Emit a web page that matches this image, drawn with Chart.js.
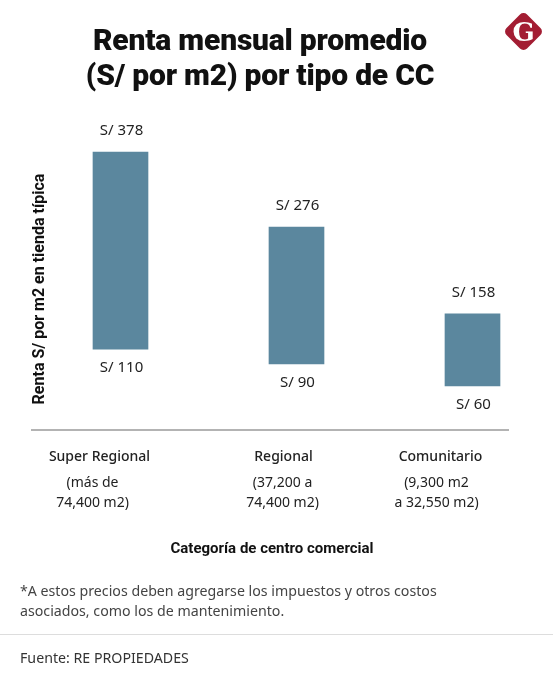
<!DOCTYPE html>
<html>
<head>
<meta charset="utf-8">
<script src="https://cdn.jsdelivr.net/npm/chart.js@4"></script>
<style>
  html, body { margin: 0; padding: 0; background: #fff; }
  body { width: 553px; height: 684px; position: relative; overflow: hidden; font-family: "Noto Sans", sans-serif; }
  #wrap { position: absolute; left: 0; top: 0; width: 553px; height: 684px; }
  .title { position: absolute; left: 0; width: 520px; top: 22px; text-align: center; font-family: Roboto, sans-serif; font-weight: 900; font-size: 30px; line-height: 35px; color: #111; letter-spacing: -0.2px; }
  .logo { position: absolute; left: 509px; top: 17px; width: 29px; height: 29px; background: #a31d33; border-radius: 5px; transform: rotate(45deg); }
  .logoG { position: absolute; left: 503px; top: 14px; width: 41px; text-align: center; font-family: "DejaVu Serif", serif; font-weight: bold; font-size: 26px; line-height: 36px; color: #fff; }
  .note { position: absolute; left: 20px; top: 581px; font-size: 14.2px; line-height: 20px; color: #444; }
  .rule { position: absolute; left: 0; top: 634px; width: 553px; height: 1px; background: #ddd; }
  .source { position: absolute; left: 20px; top: 648px; font-size: 14.2px; line-height: 20px; color: #333; }
</style>
</head>
<body>
<div id="wrap"><canvas id="graph" width="553" height="684"></canvas></div>
<div class="title">Renta mensual promedio<br>(S/ por m2) por tipo de CC</div>
<div class="logo"></div>
<div class="logoG">G</div>
<div class="note">*A estos precios deben agregarse los impuestos y otros costos<br>asociados, como los de mantenimiento.</div>
<div class="rule"></div>
<div class="source">Fuente: RE PROPIEDADES</div>

<script>
// === DATA === //

const categories = ["Super Regional", "Regional", "Comunitario"]
const categoryNotes = [["(más de", "74,400 m2)"], ["(37,200 a", "74,400 m2)"], ["(9,300 m2", "a 32,550 m2)"]]
const rentLow = [110, 90, 60]
const rentHigh = [378, 276, 158]

// === UI === //

const barColor = '#5b879e'
const textColor = '#222'
// labels sit a little left of each bar in the original
const nameShift = [-21, -13, -32]
const noteShift = [-28, -14, -36]

const labelsPlugin = {
  id: 'labels',
  afterDraw(chart) {
    const ctx = chart.ctx
    const x = chart.scales.x
    const y = chart.scales.y
    const area = chart.chartArea
    ctx.save()

    // axis line
    ctx.strokeStyle = '#b3b3b3'
    ctx.lineWidth = 2
    ctx.beginPath()
    ctx.moveTo(area.left, area.bottom)
    ctx.lineTo(area.right, area.bottom)
    ctx.stroke()

    ctx.textAlign = 'center'
    ctx.textBaseline = 'middle'
    ctx.fillStyle = textColor

    // value labels
    ctx.font = '15px "Noto Sans"'
    categories.forEach((c, i) => {
      const px = x.getPixelForValue(i)
      ctx.fillText('S/ ' + rentHigh[i], px + 1, y.getPixelForValue(rentHigh[i]) - 21)
      ctx.fillText('S/ ' + rentLow[i], px + 1, y.getPixelForValue(rentLow[i]) + 19)
    })

    // category labels
    categories.forEach((c, i) => {
      const px = x.getPixelForValue(i)
      ctx.font = '500 14px "Noto Sans"'
      ctx.fillText(c, px + nameShift[i], area.bottom + 27)
      ctx.font = '14px "Noto Sans"'
      categoryNotes[i].forEach((line, j) => {
        ctx.fillText(line, px + noteShift[i], area.bottom + 53 + j * 20)
      })
    })

    // axis titles
    ctx.font = 'bold 15px Roboto'
    ctx.fillStyle = '#111'
    ctx.fillText('Categoría de centro comercial', 272, area.bottom + 119)
    ctx.translate(40, 289)
    ctx.rotate(-Math.PI / 2)
    ctx.font = 'bold 16px Roboto'
    ctx.fillText('Renta S/ por m2 en tienda típica', 0, 0)
    ctx.restore()
  }
}

function setupDataGraph() {
  const data = {
    datasets: [{
      label: 'Renta S/ por m2',
      backgroundColor: barColor,
      borderWidth: 0,
      barThickness: 55,
      data: categories.map((c, i) => ({ x: i, y: [rentLow[i], rentHigh[i]] })),
    }]
  }

  const config = {
    type: 'bar',
    data,
    options: {
      responsive: false,
      animation: false,
      layout: { padding: { left: 31, right: 44, top: 135.8, bottom: 254 } },
      plugins: {
        legend: { display: false },
        tooltip: { enabled: false }
      },
      scales: {
        x: { type: 'linear', min: -0.5085, max: 2.2074, offset: false, display: false },
        y: { min: 0, max: 400, display: false }
      }
    },
    plugins: [labelsPlugin]
  }

  new Chart(document.getElementById('graph'), config)
}

setupDataGraph()
</script>
</body>
</html>
